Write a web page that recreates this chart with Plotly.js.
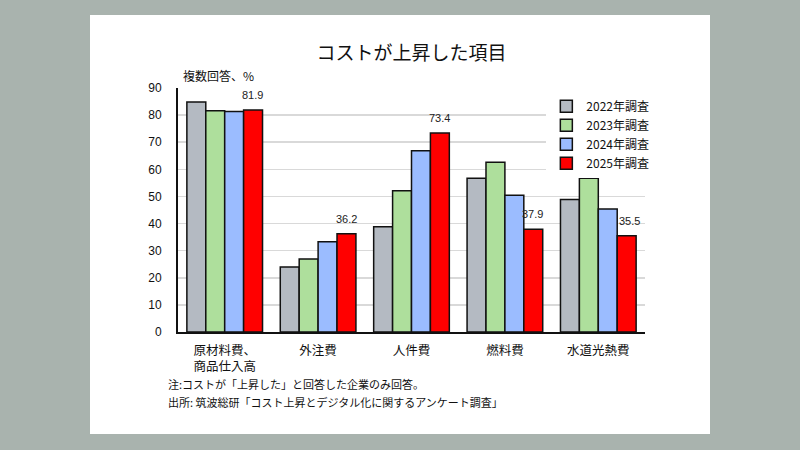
<!DOCTYPE html>
<html>
<head>
<meta charset="utf-8">
<script src="https://cdn.plot.ly/plotly-3.0.1.min.js"></script>
<style>
  html, body { margin: 0; padding: 0; background: #a9b3ae; }
  #panel { position: absolute; left: 90px; top: 15px; width: 620px; height: 419px; background: #ffffff; }
  #chart { position: absolute; left: 0; top: 0; width: 800px; height: 450px; }
</style>
</head>
<body>
<div id="panel"></div>
<div id="chart"></div>
<script>
const categories = ["原材料費、<br>商品仕入高", "外注費", "人件費", "燃料費", "水道光熱費"];
const seriesNames = ["2022年調査", "2023年調査", "2024年調査", "2025年調査"];
const values2022 = [84.8, 24.0, 38.8, 56.7, 48.9];
const values2023 = [81.6, 26.9, 52.1, 62.6, 56.7];
const values2024 = [81.3, 33.3, 66.9, 50.4, 45.4];
const values2025 = [81.9, 36.2, 73.4, 37.9, 35.5];
const yTicks = [0, 10, 20, 30, 40, 50, 60, 70, 80, 90];

const colors = ["#b4bac2", "#aedf9c", "#9bbcff", "#ff0000"];
const allValues = [values2022, values2023, values2024, values2025];
const FONT = "Liberation Sans, Arial, Noto Sans CJK JP, sans-serif";
const JFONT = "Noto Sans CJK JP, sans-serif";
const TICKFONT = "Liberation Sans, Noto Sans CJK JP, sans-serif";

const traces = allValues.map((vals, i) => ({
  type: "bar",
  name: seriesNames[i],
  x: categories,
  y: vals,
  marker: { color: colors[i], line: { color: "#111111", width: 1.5 } },
  hoverinfo: "skip"
}));

// value labels for the 2025 series, placed over the 4th bar of each group
const labelAnnotations = values2025.map((v, j) => ({
  text: v.toFixed(1),
  xref: "x", yref: "y",
  x: categories[j], y: v,
  xanchor: "center", yanchor: "bottom",
  xshift: j === 4 ? 31 : 28, yshift: 7,
  showarrow: false,
  font: { family: FONT, size: 11, color: "#222222" }
}));

const layout = {
  width: 800,
  height: 450,
  paper_bgcolor: "rgba(0,0,0,0)",
  plot_bgcolor: "#ffffff",
  margin: { l: 178, r: 155, t: 88, b: 118 },
  barmode: "group",
  bargap: 0.19,
  bargroupgap: 0,
  showlegend: true,
  title: {
    text: "コストが上昇した項目",
    font: { family: JFONT, size: 19, color: "#111111" },
    x: 0.5, xref: "paper", xanchor: "center",
    y: 1 - 53 / 450, yanchor: "middle"
  },
  legend: {
    x: 1.02, xanchor: "right",
    y: 0.985, yanchor: "top",
    bgcolor: "#ffffff",
    font: { family: JFONT, size: 12, color: "#111111" },
    itemwidth: 30,
    tracegroupgap: 0,
    traceorder: "normal"
  },
  xaxis: {
    type: "category",
    showline: true, linecolor: "#111111", linewidth: 2,
    ticks: "",
    tickfont: { family: TICKFONT, size: 12.5, color: "#111111" },
    ticklabelstandoff: 6,
    showgrid: false,
    zeroline: false,
    fixedrange: true
  },
  yaxis: {
    range: [0, 90],
    tickvals: yTicks,
    ticktext: yTicks.map(String),
    showline: true, linecolor: "#111111", linewidth: 2,
    ticks: "",
    ticklabelstandoff: 12,
    tickfont: { family: FONT, size: 12, color: "#111111" },
    showgrid: true, gridcolor: "#d9d9d9", gridwidth: 1.5,
    zeroline: false,
    fixedrange: true
  },
  annotations: labelAnnotations.concat([
    {
      text: "複数回答、%",
      xref: "paper", yref: "paper",
      x: (181 - 178) / 467, y: (332 - 75) / 244,
      xanchor: "left", yanchor: "middle",
      showarrow: false,
      font: { family: JFONT, size: 12, color: "#111111" }
    },
    {
      text: "注:コストが「上昇した」と回答した企業のみ回答。",
      xref: "paper", yref: "paper",
      x: (166 - 178) / 467, y: (332 - 384) / 244,
      xanchor: "left", yanchor: "middle",
      showarrow: false,
      font: { family: JFONT, size: 11, color: "#111111" }
    },
    {
      text: "出所: 筑波総研「コスト上昇とデジタル化に関するアンケート調査」",
      xref: "paper", yref: "paper",
      x: (166 - 178) / 467, y: (332 - 402) / 244,
      xanchor: "left", yanchor: "middle",
      showarrow: false,
      font: { family: JFONT, size: 11, color: "#111111" }
    }
  ])
};

Plotly.newPlot("chart", traces, layout, { staticPlot: true, displayModeBar: false });
</script>
</body>
</html>
